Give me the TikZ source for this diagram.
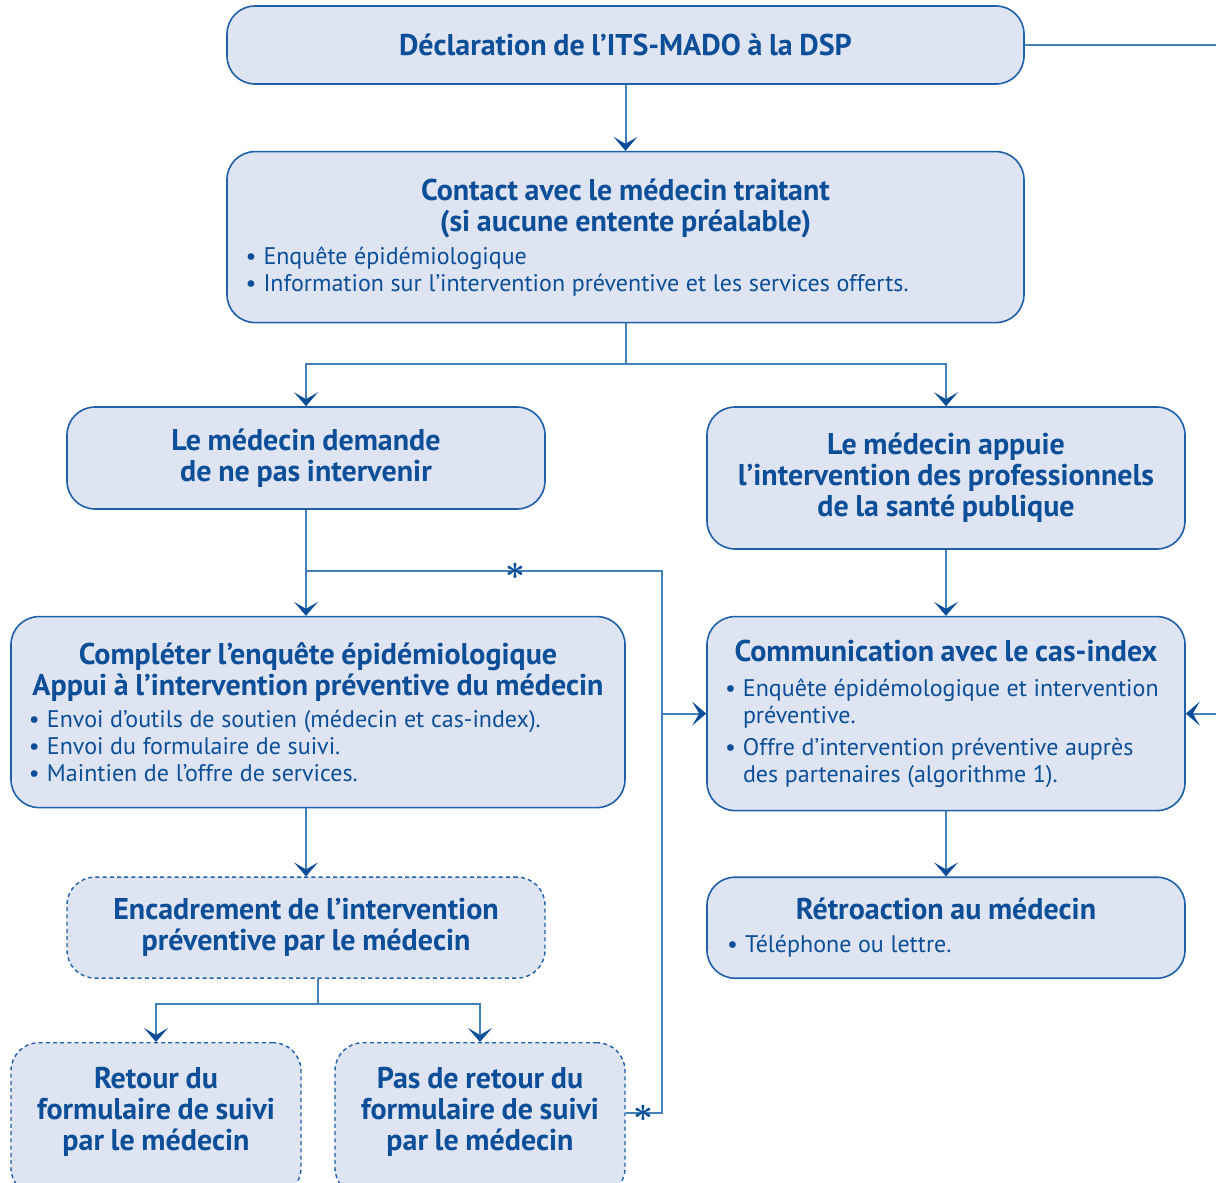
\documentclass[tikz,border=0pt]{standalone}
\usepackage{fontspec}
\setmainfont{PT Sans}
\usetikzlibrary{arrows.meta,positioning}
\definecolor{dspblue}{RGB}{12,78,152}
\definecolor{dspline}{RGB}{66,128,188}
\definecolor{dspedge}{RGB}{30,96,170}
\definecolor{dspfill}{RGB}{222,228,241}
\newcommand{\headfont}{\fontsize{15}{15.5}\selectfont\bfseries}
\newcommand{\itemfont}{\fontsize{12}{13.5}\selectfont}
\newcommand{\boxhead}[1]{{\centering\headfont #1\par}}
\newcommand{\boxitem}[1]{{\raggedright\itemfont\hangindent=9pt\hangafter=1\noindent\makebox[9pt][l]{•}#1\par}}
\tikzset{
 flowbox/.style={
 rectangle,
 rounded corners=14pt,
 draw=dspedge,
 fill=dspfill,
 line width=0.8pt,
 text=dspblue,
 inner sep=0pt
 },
 loosebox/.style={
 flowbox,
 dash pattern=on 2pt off 1.6pt,
 line width=0.7pt
 },
 flowline/.style={draw=dspline, line width=1pt},
 flowarrow/.style={flowline, -{Stealth[length=7pt, width=12pt, inset=3.5pt, color=dspblue]}},
 starmark/.style={font=\fontsize{18}{18}\selectfont\boldmath, text=dspblue, inner sep=0pt}
}

\begin{document}
\begin{tikzpicture}[x=0.5pt, y=-0.5pt]
 \useasboundingbox (0,0) rectangle (1216,1183);
 \node[flowbox, minimum width=398.5pt, minimum height=39pt, text width=380pt] (decl) at (625.5,45)
 {\boxhead{Déclaration de l’ITS-MADO à la DSP}};
 \node[flowbox, minimum width=398.5pt, minimum height=85.5pt, text width=380pt, below=33pt of decl] (contact)
 {\boxhead{Contact avec le médecin traitant\\(si aucune entente préalable)}\vspace{3pt}
 \boxitem{Enquête épidémiologique}
 \boxitem{Information sur l’intervention préventive et les services offerts.}};
 \node[flowbox, minimum width=239pt, minimum height=51pt, text width=221pt] (medleft) at (306,458)
 {\boxhead{Le médecin demande\\de ne pas intervenir}};
 \node[flowbox, minimum width=239pt, minimum height=71pt, text width=232pt] (medright) at (946,478)
 {\boxhead{Le médecin appuie\\l’intervention des professionnels\\de la santé publique}};
 \node[flowbox, minimum width=307pt, minimum height=95.5pt, text width=300pt, below=53pt of medleft, xshift=6pt] (complete)
 {\boxhead{Compléter l’enquête épidémiologique\\Appui à l’intervention préventive du médecin}\vspace{3pt}
 \hspace*{5.5pt}\parbox{289pt}{\boxitem{Envoi d’outils de soutien (médecin et cas-index).}
 \boxitem{Envoi du formulaire de suivi.}
 \boxitem{Maintien de l’offre de services.}}};
 \node[flowbox, minimum width=239pt, minimum height=97pt, text width=221pt, below=33pt of medright] (comm)
 {\boxhead{Communication avec le cas-index}\vspace{4pt}
 \boxitem{Enquête épidémologique et intervention\newline préventive.}\vspace{2.5pt}
 \boxitem{Offre d’intervention préventive auprès\newline des partenaires (algorithme 1).}};
 \node[loosebox, minimum width=239pt, minimum height=50.5pt, text width=221pt, below=34pt of complete, xshift=-6pt] (encadr)
 {\boxhead{Encadrement de l’intervention\\préventive par le médecin}};
 \node[flowbox, minimum width=239pt, minimum height=50.5pt, text width=219pt, below=32.5pt of comm] (retro)
 {\boxhead{Rétroaction au médecin}\vspace{3pt}
 \boxitem{Téléphone ou lettre.}};
 \node[loosebox, anchor=north, minimum width=145pt, inner ysep=12pt, text width=140pt, text depth=42pt] (retour) at (156,1042)
 {\boxhead{Retour du\\formulaire de suivi\\par le médecin}};
 \node[loosebox, anchor=north, minimum width=145pt, inner ysep=12pt, text width=140pt, text depth=42pt] (pasretour) at (480,1042)
 {\boxhead{Pas de retour du\\formulaire de suivi\\par le médecin}};

 % main stem and split below the contact box
 \draw[flowarrow] (decl) -- (contact);
 \draw[flowline] (contact.south) -- ++(0,41) coordinate (split1);
 \draw[flowarrow] (split1) -| (medleft.north);
 \draw[flowarrow] (split1) -| (medright.north);

 % left column
 \draw[flowarrow] (medleft) -- (medleft.south |- complete.north);
 \draw[flowarrow] (encadr.north |- complete.south) -- (encadr.north);
 \draw[flowline] (complete.south |- encadr.south) -- ++(0,25) coordinate (split2);
 \draw[flowarrow] (split2) -| (retour.north);
 \draw[flowarrow] (split2) -| (pasretour.north);

 % rail with asterisks
 \coordinate (branch) at (306,571);
 \coordinate (rail) at (662,571);
 \coordinate (railend) at (662,1113);
 \draw[flowline] (branch) -- node[starmark, pos=0.587] (star1) {$\ast$} (rail) -- (railend)
 -- node[starmark, pos=0.5] (star2) {$\ast$} (pasretour.east |- railend);
 \draw[flowarrow] (rail |- comm.west) -- (comm.west);

 % right column
 \draw[flowarrow] (medright) -- (comm);
 \draw[flowarrow] (comm) -- (retro);
 \coordinate (edge) at (1216,45);
 \draw[flowline] (decl.east) -- (edge);
 \draw[flowarrow] (edge |- comm.east) -- (comm.east);
\end{tikzpicture}
\end{document}
